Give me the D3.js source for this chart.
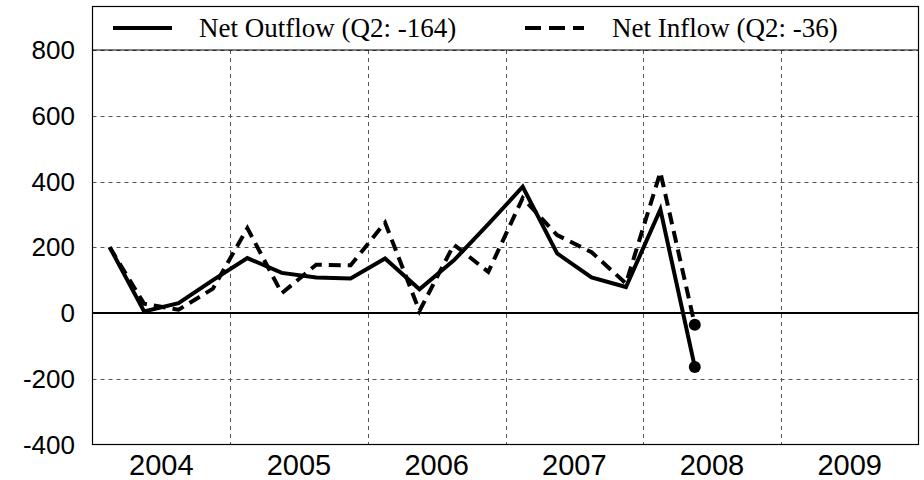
<!DOCTYPE html>
<html>
<head>
<meta charset="utf-8">
<script src="https://cdn.jsdelivr.net/npm/d3@7"></script>
<style>
  html, body { margin: 0; padding: 0; background: #fff; }
  svg { display: block; }
</style>
</head>
<body>
<svg id="chart" width="924" height="480"></svg>
<script>
// ---- data ----
const quarters = ["2004Q1","2004Q2","2004Q3","2004Q4","2005Q1","2005Q2","2005Q3","2005Q4",
                  "2006Q1","2006Q2","2006Q3","2006Q4","2007Q1","2007Q2","2007Q3","2007Q4",
                  "2008Q1","2008Q2"];
const netOutflow = [200, 5, 30, 100, 167, 122, 108, 105, 166, 72, 160, 270, 384, 181, 108, 79, 315, -164];
const netInflow  = [200, 28, 10, 74, 258, 60, 147, 145, 275, 6, 208, 125, 350, 237, 185, 90, 428, -36];
const yTicks = [-400, -200, 0, 200, 400, 600, 800];
const yearLabels = ["2004", "2005", "2006", "2007", "2008", "2009"];
const legendLabels = ["Net Outflow (Q2: -164)", "Net Inflow (Q2: -36)"];

// ---- layout ----
const svg = d3.select("#chart");
const left = 92.5, right = 918.5, frameTop = 6.5, plotTop = 50, bottom = 444.5;

const qToYear = q => +q.slice(0, 4) + (+q.slice(5) - 0.5) / 4;
const x = d3.scaleLinear().domain([2004, 2010]).range([left, right]);
const y = d3.scaleLinear().domain([-400, 800]).range([bottom, plotTop]);

const gridColor = "#555";
const g = svg.append("g");

// horizontal grid
g.selectAll("line.hg").data(yTicks.filter(v => v !== 0 && v !== -400))
  .join("line")
  .attr("x1", left).attr("x2", right)
  .attr("y1", d => Math.round(y(d)) + 0.5).attr("y2", d => Math.round(y(d)) + 0.5)
  .attr("stroke", gridColor).attr("stroke-width", 1).attr("stroke-dasharray", "4,4");

// vertical grid
g.selectAll("line.vg").data(d3.range(2005, 2010))
  .join("line")
  .attr("x1", d => Math.round(x(d)) + 0.5).attr("x2", d => Math.round(x(d)) + 0.5)
  .attr("y1", plotTop).attr("y2", bottom)
  .attr("stroke", gridColor).attr("stroke-width", 1).attr("stroke-dasharray", "4,4");

// zero line
g.append("line")
  .attr("x1", left).attr("x2", right)
  .attr("y1", y(0)).attr("y2", y(0))
  .attr("stroke", "#000").attr("stroke-width", 2);

// lines
const line = d3.line().x((d, i) => x(qToYear(quarters[i]))).y(d => y(d));
g.append("path").datum(netInflow)
  .attr("d", line).attr("fill", "none").attr("stroke", "#000")
  .attr("stroke-width", 4).attr("stroke-dasharray", "12,7");
g.append("path").datum(netOutflow)
  .attr("d", line).attr("fill", "none").attr("stroke", "#000")
  .attr("stroke-width", 4);

// end markers
const lastQ = quarters[quarters.length - 1];
[netOutflow, netInflow].forEach(s => {
  g.append("circle")
    .attr("cx", x(qToYear(lastQ))).attr("cy", y(s[s.length - 1]))
    .attr("r", 6).attr("fill", "#000");
});

// legend strip
g.append("line").attr("x1", left).attr("x2", right).attr("y1", plotTop).attr("y2", plotTop)
  .attr("stroke", "#000").attr("stroke-width", 1.2);
const leg = g.append("g");
leg.append("line").attr("x1", 113).attr("x2", 172).attr("y1", 28).attr("y2", 28)
  .attr("stroke", "#000").attr("stroke-width", 4);
leg.append("text").attr("x", 199).attr("y", 37).text(legendLabels[0])
  .attr("font-family", "'Liberation Serif', 'Times New Roman', serif").attr("font-size", 27);
leg.append("line").attr("x1", 525).attr("x2", 584).attr("y1", 28).attr("y2", 28)
  .attr("stroke", "#000").attr("stroke-width", 4).attr("stroke-dasharray", "16,8");
leg.append("text").attr("x", 612).attr("y", 37).text(legendLabels[1])
  .attr("font-family", "'Liberation Serif', 'Times New Roman', serif").attr("font-size", 27);

// frame
g.append("rect").attr("x", left).attr("y", frameTop)
  .attr("width", right - left).attr("height", bottom - frameTop)
  .attr("fill", "none").attr("stroke", "#000").attr("stroke-width", 1.2);

// y labels
g.selectAll("text.yl").data(yTicks).join("text")
  .attr("x", 75).attr("y", d => y(d)).attr("dy", "0.35em")
  .attr("text-anchor", "end")
  .attr("font-family", "'Liberation Sans', Arial, sans-serif").attr("font-size", 26)
  .text(d => d);

// x labels
g.selectAll("text.xl").data(yearLabels).join("text")
  .attr("x", d => x(+d + 0.5)).attr("y", 475)
  .attr("text-anchor", "middle")
  .attr("font-family", "'Liberation Sans', Arial, sans-serif").attr("font-size", 29)
  .text(d => d);
</script>
</body>
</html>
